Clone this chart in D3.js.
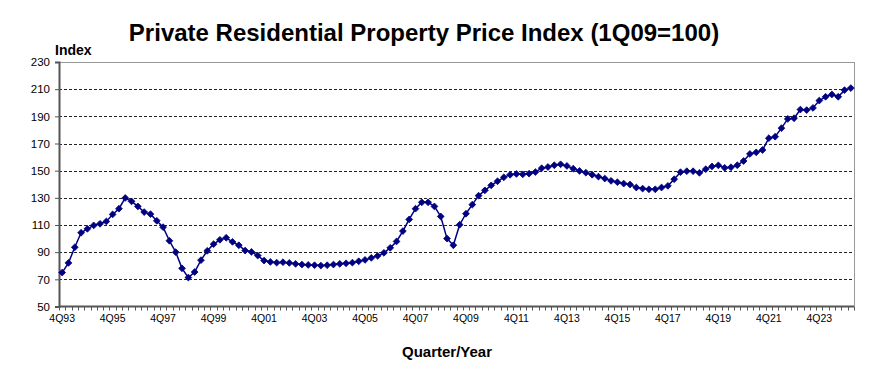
<!DOCTYPE html>
<html>
<head>
<meta charset="utf-8">
<script src="https://cdn.jsdelivr.net/npm/d3@7"></script>
<style>
  html, body { margin: 0; padding: 0; background: #fff; }
  svg { display: block; font-family: Arial, "Liberation Sans", sans-serif; }
</style>
</head>
<body>
<svg id="chart" width="894" height="382"></svg>
<script>
// ---------------- data ----------------
const categories = ("4Q93 " +
  "1Q94 2Q94 3Q94 4Q94 1Q95 2Q95 3Q95 4Q95 1Q96 2Q96 3Q96 4Q96 1Q97 2Q97 3Q97 4Q97 " +
  "1Q98 2Q98 3Q98 4Q98 1Q99 2Q99 3Q99 4Q99 1Q00 2Q00 3Q00 4Q00 1Q01 2Q01 3Q01 4Q01 " +
  "1Q02 2Q02 3Q02 4Q02 1Q03 2Q03 3Q03 4Q03 1Q04 2Q04 3Q04 4Q04 1Q05 2Q05 3Q05 4Q05 " +
  "1Q06 2Q06 3Q06 4Q06 1Q07 2Q07 3Q07 4Q07 1Q08 2Q08 3Q08 4Q08 1Q09 2Q09 3Q09 4Q09 " +
  "1Q10 2Q10 3Q10 4Q10 1Q11 2Q11 3Q11 4Q11 1Q12 2Q12 3Q12 4Q12 1Q13 2Q13 3Q13 4Q13 " +
  "1Q14 2Q14 3Q14 4Q14 1Q15 2Q15 3Q15 4Q15 1Q16 2Q16 3Q16 4Q16 1Q17 2Q17 3Q17 4Q17 " +
  "1Q18 2Q18 3Q18 4Q18 1Q19 2Q19 3Q19 4Q19 1Q20 2Q20 3Q20 4Q20 1Q21 2Q21 3Q21 4Q21 " +
  "1Q22 2Q22 3Q22 4Q22 1Q23 2Q23 3Q23 4Q23 1Q24 2Q24 3Q24 4Q24 1Q25").split(" ");

const priceIndex = [
  75.0, 82.1, 93.6, 104.3, 107.2, 109.7, 110.9, 112.6, 117.8, 122.0,
  129.9, 127.4, 123.7, 119.5, 118.0, 113.1, 108.4, 98.4, 90.0, 78.1,
  71.3, 75.4, 84.1, 91.0, 95.9, 99.1, 100.6, 97.6, 95.1, 91.2,
  90.2, 87.5, 83.8, 82.8, 82.3, 82.6, 82.1, 81.4, 80.9, 80.6,
  80.4, 80.1, 80.4, 80.9, 81.4, 81.8, 82.3, 83.3, 84.3, 85.8,
  87.3, 89.5, 93.2, 97.9, 105.5, 114.1, 122.0, 126.7, 126.7, 123.7,
  116.3, 100.0, 95.1, 110.2, 118.3, 125.0, 131.6, 135.5, 139.2, 142.2,
  145.1, 147.0, 147.6, 147.3, 147.8, 149.0, 151.8, 152.7, 154.0, 154.7,
  153.5, 151.5, 149.8, 148.5, 147.0, 145.6, 144.2, 142.5, 141.5, 140.5,
  139.8, 137.6, 136.8, 136.3, 136.3, 137.6, 138.8, 143.7, 148.9, 149.6,
  149.6, 148.4, 151.1, 153.1, 153.9, 152.1, 152.5, 154.0, 157.1, 162.3,
  163.5, 165.2, 173.9, 175.0, 181.3, 188.1, 188.6, 195.0, 194.6, 196.2,
  201.6, 204.4, 206.1, 204.4, 209.3, 210.8
];

const xTickLabels = ["4Q93","4Q95","4Q97","4Q99","4Q01","4Q03","4Q05","4Q07",
                     "4Q09","4Q11","4Q13","4Q15","4Q17","4Q19","4Q21","4Q23"];
const yTickValues = [50, 70, 90, 110, 130, 150, 170, 190, 210, 230];
const gridValues  = [70, 90, 110, 130, 150, 170, 190, 210];

const titleText  = "Private Residential Property Price Index (1Q09=100)";
const yAxisTitle = "Index";
const xAxisTitle = "Quarter/Year";

// ---------------- layout ----------------
const plotLeft = 59, plotRight = 854, plotTop = 62, plotBottom = 306.5;
const svg = d3.select("#chart");

const x = d3.scaleBand().domain(categories).range([plotLeft, plotRight]).padding(0);
const y = d3.scaleLinear().domain([50, 230]).range([plotBottom, plotTop]);
const cx = c => x(c) + x.bandwidth() / 2;

// title
svg.append("text")
  .attr("x", 424).attr("y", 41)
  .attr("text-anchor", "middle")
  .attr("font-size", 24).attr("font-weight", "bold")
  .attr("fill", "#000")
  .text(titleText);

// y axis title
svg.append("text")
  .attr("x", 55).attr("y", 55)
  .attr("font-size", 14).attr("font-weight", "bold")
  .text(yAxisTitle);

// x axis title
svg.append("text")
  .attr("x", 447).attr("y", 357)
  .attr("text-anchor", "middle")
  .attr("font-size", 15).attr("font-weight", "bold")
  .text(xAxisTitle);

// gridlines
svg.append("g").selectAll("line").data(gridValues).join("line")
  .attr("x1", plotLeft).attr("x2", plotRight)
  .attr("y1", d => Math.round(y(d)) + 0.5).attr("y2", d => Math.round(y(d)) + 0.5)
  .attr("stroke", "#222").attr("stroke-width", 1)
  .attr("stroke-dasharray", "3,2");

// plot border top/right
svg.append("line")
  .attr("x1", plotLeft).attr("x2", plotRight)
  .attr("y1", Math.round(y(230)) + 0.5).attr("y2", Math.round(y(230)) + 0.5)
  .attr("stroke", "#999");
svg.append("line")
  .attr("x1", plotRight + 0.5).attr("x2", plotRight + 0.5)
  .attr("y1", y(230)).attr("y2", y(50))
  .attr("stroke", "#999");

// y axis
const yAxis = d3.axisLeft(y).tickValues(yTickValues).tickSize(4).tickPadding(5);
const gy = svg.append("g").attr("transform", `translate(${plotLeft},0)`).call(yAxis);
gy.select(".domain").attr("stroke", "#555").attr("stroke-width", 2);
gy.selectAll(".tick line").attr("stroke", "#555");
gy.selectAll(".tick text").attr("font-size", 11.5).attr("fill", "#000")
  .attr("font-family", "Arial, 'Liberation Sans', sans-serif");

// x axis: baseline
svg.append("line")
  .attr("x1", plotLeft).attr("x2", plotRight)
  .attr("y1", y(50)).attr("y2", y(50))
  .attr("stroke", "#555").attr("stroke-width", 2);

// x minor ticks at each category boundary
const boundaries = categories.map(c => x(c)).concat([plotRight]);
svg.append("g").selectAll("line").data(boundaries).join("line")
  .attr("x1", d => Math.round(d) + 0.5).attr("x2", d => Math.round(d) + 0.5)
  .attr("y1", y(50)).attr("y2", y(50) + 4)
  .attr("stroke", "#555").attr("stroke-width", 1);

// x labels
svg.append("g").selectAll("text").data(xTickLabels).join("text")
  .attr("x", d => cx(d))
  .attr("y", y(50) + 15)
  .attr("text-anchor", "middle")
  .attr("font-size", 10.5)
  .text(d => d);

// line
const data = categories.map((c, i) => ({ c, v: priceIndex[i] }));
const line = d3.line().x(d => cx(d.c)).y(d => y(d.v));
svg.append("path").datum(data)
  .attr("d", line)
  .attr("fill", "none")
  .attr("stroke", "#000080")
  .attr("stroke-width", 1.5);

// diamond markers
const r = 3.4;
const diamond = `M0,${-r}L${r},0L0,${r}L${-r},0Z`;
svg.append("g").selectAll("path").data(data).join("path")
  .attr("transform", d => `translate(${cx(d.c)},${y(d.v)})`)
  .attr("d", diamond)
  .attr("fill", "#000080")
  .attr("stroke", "#000080")
  .attr("stroke-width", 0.8);
</script>
</body>
</html>
